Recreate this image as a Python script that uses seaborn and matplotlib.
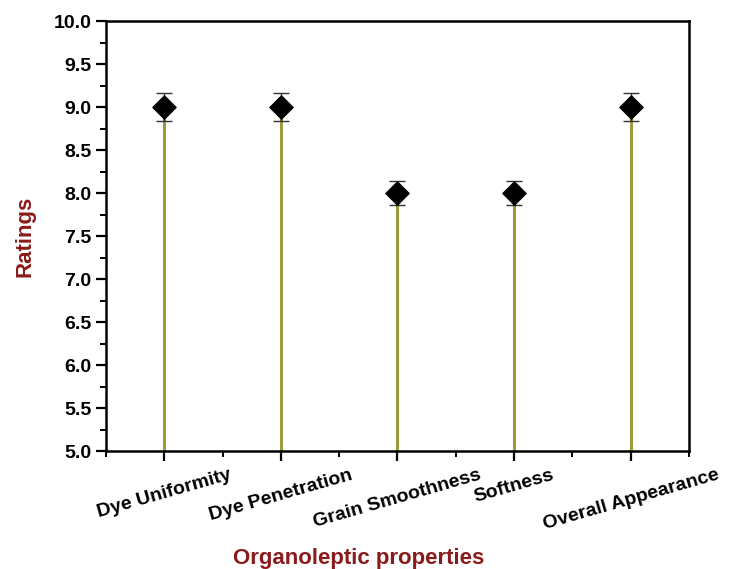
import numpy as np
import pandas as pd
import matplotlib
matplotlib.use("Agg")
import matplotlib.pyplot as plt
from matplotlib.ticker import MultipleLocator
import seaborn as sns

categories = ["Dye Uniformity", "Dye Penetration", "Grain Smoothness",
              "Softness", "Overall Appearance"]
ratings = [9.0, 9.0, 8.0, 8.0, 9.0]
errors = [0.16, 0.16, 0.14, 0.14, 0.16]

sns.set_style("ticks")
plt.rcParams['font.family'] = ['Liberation Sans', 'DejaVu Sans']
plt.rcParams['font.weight'] = 'bold'

df = pd.DataFrame({"pos": np.arange(len(categories)), "rating": ratings,
                   "err": errors})

fig = plt.figure(figsize=(7.3, 5.69), dpi=100)
ax = fig.add_axes([0.145, 0.207, 0.799, 0.756])

# stems from the baseline
ax.vlines(df["pos"], 5.0, df["rating"], color="#9c9c3c", lw=2.2, zorder=1)
ax.errorbar(df["pos"], df["rating"], yerr=df["err"], fmt="none",
            ecolor="#333333", elinewidth=1, capsize=6, capthick=1, zorder=2)
sns.scatterplot(data=df, x="pos", y="rating", marker="D", s=140,
                color="black", edgecolor="black", zorder=3, ax=ax)

ax.set_xlim(-0.5, 4.5)
ax.set_ylim(5.0, 10.0)
ax.set_xticks(df["pos"])
ax.set_xticklabels(categories, rotation=16, ha="center",
                   fontsize=14, fontweight="bold")
ax.xaxis.set_minor_locator(MultipleLocator(0.5))
ax.set_yticks(np.arange(5.0, 10.01, 0.5))
ax.set_yticklabels([f"{v:.1f}" for v in np.arange(5.0, 10.01, 0.5)],
                   fontsize=14, fontweight="bold")
ax.yaxis.set_minor_locator(MultipleLocator(0.25))

ax.tick_params(axis="both", which="major", direction="out", length=7,
               width=1.6, colors="black")
ax.tick_params(axis="x", which="major", pad=4)
ax.tick_params(axis="both", which="minor", direction="out", length=4,
               width=1.4, colors="black")
for s in ax.spines.values():
    s.set_linewidth(1.8)
    s.set_color("black")

ax.set_xlabel("Organoleptic properties", fontsize=16, fontweight="bold",
              color="#8b1a1a")
ax.xaxis.set_label_coords(0.434, -0.225)
ax.set_ylabel("Ratings", fontsize=16, fontweight="bold", color="#8b1a1a",
              labelpad=13)

plt.savefig("out.png", dpi=100)
